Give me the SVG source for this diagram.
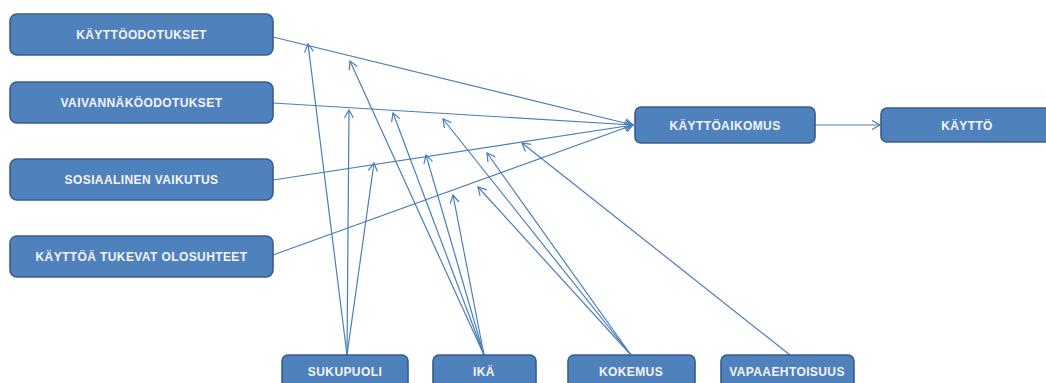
<svg xmlns="http://www.w3.org/2000/svg" width="1046" height="383" viewBox="0 0 1046 383">
<style>
.box{fill:#4F81BD;stroke:#385D8A;stroke-width:1.6}
.lbl{font-family:"Liberation Sans",Arial,sans-serif;font-size:12px;font-weight:bold;letter-spacing:0.4px;fill:#F4F4F8;text-anchor:middle}
.c{stroke:#4A7EBB;stroke-width:1.2;fill:none;marker-end:url(#ah)}
</style>
<defs>
<marker id="ah" markerUnits="userSpaceOnUse" markerWidth="12" markerHeight="12" refX="9" refY="5" orient="auto">
<path d="M1,0.5 L9,5 L1,9.5" fill="none" stroke="#4A7EBB" stroke-width="1.2"/>
</marker>
</defs>
<rect width="1046" height="383" fill="#FFFFFF"/>
<g id="connectors">
<line class="c" x1="273" y1="37" x2="633" y2="125"/>
<line class="c" x1="273" y1="103" x2="633" y2="125"/>
<line class="c" x1="273" y1="180" x2="633" y2="125"/>
<line class="c" x1="273" y1="255" x2="633" y2="125"/>
<line class="c" x1="815" y1="125" x2="880" y2="125"/>
<line class="c" x1="347" y1="355" x2="308" y2="44"/>
<line class="c" x1="347" y1="355" x2="349" y2="110"/>
<line class="c" x1="347" y1="355" x2="374" y2="163"/>
<line class="c" x1="484" y1="355" x2="350" y2="61"/>
<line class="c" x1="484" y1="355" x2="393" y2="113"/>
<line class="c" x1="484" y1="355" x2="426" y2="155"/>
<line class="c" x1="484" y1="355" x2="453" y2="195"/>
<line class="c" x1="631" y1="355" x2="443" y2="119"/>
<line class="c" x1="631" y1="355" x2="487" y2="153"/>
<line class="c" x1="631" y1="355" x2="478" y2="187"/>
<line class="c" x1="790" y1="355" x2="522" y2="143"/>
</g>
<g id="kayttoodotukset"><rect class="box" x="10" y="14" width="263" height="41" rx="7"/><text class="lbl" x="141.5" y="39">KÄYTTÖODOTUKSET</text></g>
<g id="vaivannakoodotukset"><rect class="box" x="10" y="82" width="263" height="41" rx="7"/><text class="lbl" x="141.5" y="107">VAIVANNÄKÖODOTUKSET</text></g>
<g id="sosiaalinen"><rect class="box" x="10" y="159" width="263" height="41" rx="7"/><text class="lbl" x="141.5" y="184">SOSIAALINEN VAIKUTUS</text></g>
<g id="olosuhteet"><rect class="box" x="10" y="236" width="263" height="41" rx="7"/><text class="lbl" x="141.5" y="261">KÄYTTÖÄ TUKEVAT OLOSUHTEET</text></g>
<g id="kayttoaikomus"><rect class="box" x="635" y="107" width="180" height="36" rx="6"/><text class="lbl" x="725" y="129.5">KÄYTTÖAIKOMUS</text></g>
<g id="kaytto"><rect class="box" x="881" y="108" width="180" height="34" rx="6"/><text class="lbl" x="967" y="129.5">KÄYTTÖ</text></g>
<g id="sukupuoli"><rect class="box" x="282" y="355" width="126" height="40" rx="6"/><text class="lbl" x="345" y="376">SUKUPUOLI</text></g>
<g id="ika"><rect class="box" x="433" y="355" width="103" height="40" rx="6"/><text class="lbl" x="484" y="376">IKÄ</text></g>
<g id="kokemus"><rect class="box" x="568" y="355" width="127" height="40" rx="6"/><text class="lbl" x="631" y="376">KOKEMUS</text></g>
<g id="vapaaehtoisuus"><rect class="box" x="721" y="355" width="133" height="40" rx="6"/><text class="lbl" x="787" y="376">VAPAAEHTOISUUS</text></g>
</svg>
